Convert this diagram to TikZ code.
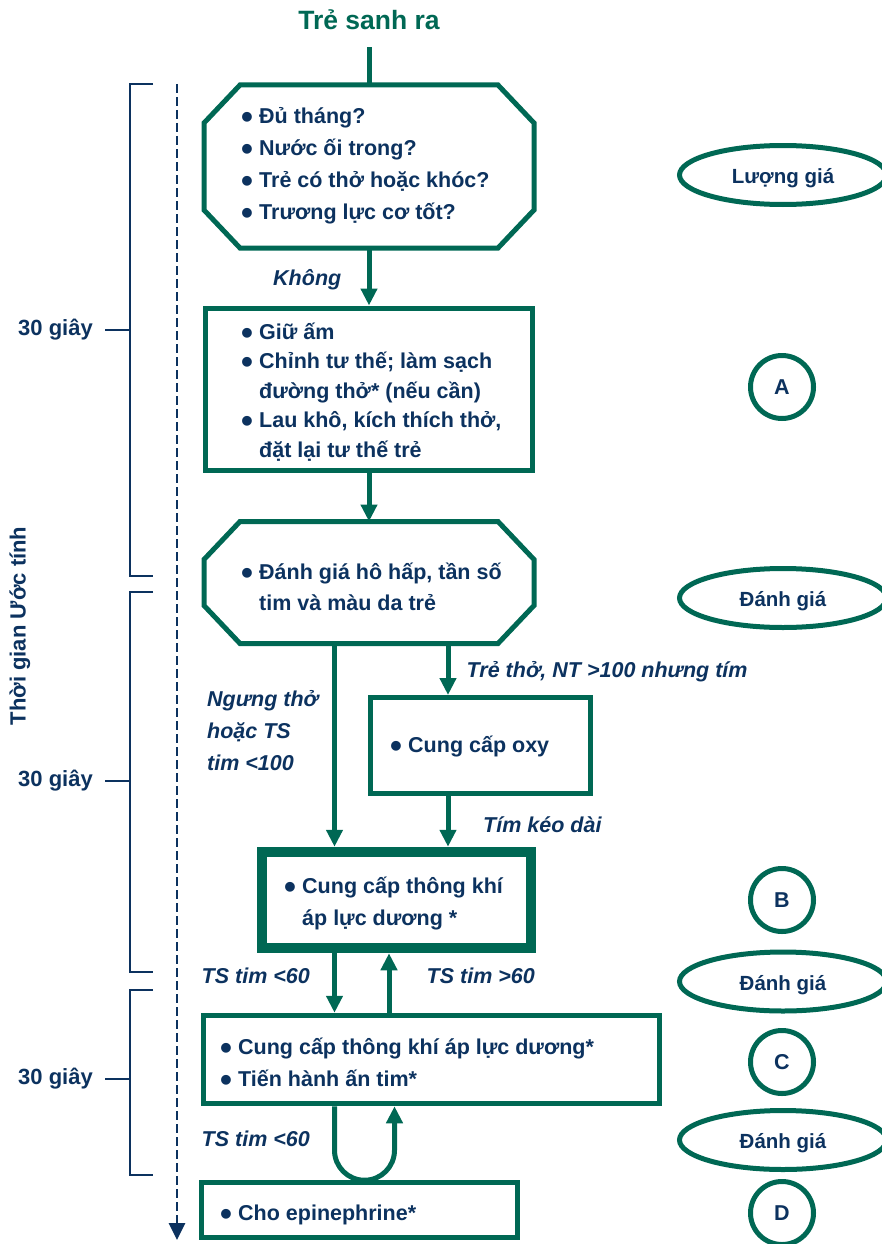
\documentclass[tikz,border=0pt]{standalone}
\usepackage{fontspec}
\setmainfont{Liberation Sans}
\usetikzlibrary{positioning,arrows.meta,shapes.geometric}

\definecolor{nrpgreen}{RGB}{0,104,84}
\definecolor{nrpnavy}{RGB}{12,50,95}

\newcommand{\itm}{\makebox[18pt][l]{\smash{\raisebox{-5pt}{\fontsize{34}{34}\selectfont\textbullet}}}}
\newcommand{\cnt}{\hspace*{18pt}}

% octagon frame round an empty node
\newcommand{\octframe}[1]{%
  \draw[frame] ([xshift=36pt]#1.north west) -- ([xshift=-36pt]#1.north east)
    -- ([yshift=-38pt]#1.north east) -- ([yshift=38pt]#1.south east)
    -- ([xshift=-36pt]#1.south east) -- ([xshift=36pt]#1.south west)
    -- ([yshift=38pt]#1.south west) -- ([yshift=-38pt]#1.north west) -- cycle;}

\begin{document}
\begin{tikzpicture}[x=1pt, y=-1pt, >={Triangle[width=16pt,length=17pt]},
  frame/.style={draw=nrpgreen, line width=5pt},
  oct/.style={minimum width=330pt, inner sep=0pt, outer sep=0pt},
  link/.style={draw=nrpgreen, line width=5pt},
  txt/.style={text=nrpnavy, font=\bfseries\fontsize{21.5}{31}\selectfont, align=left, inner sep=0pt, anchor=west},
  lbl/.style={txt, font=\bfseries\itshape\fontsize{21.5}{32}\selectfont},
  review/.style={ellipse, draw=nrpgreen, line width=5pt, minimum width=207pt, minimum height=59pt, inner sep=0pt, text height=17pt, text depth=0pt, text=nrpnavy, font=\bfseries\fontsize{20.5}{24}\selectfont},
  stage/.style={circle, draw=nrpgreen, line width=5pt, minimum size=63pt, inner sep=0pt, text=nrpnavy, font=\bfseries\fontsize{21.5}{24}\selectfont},
  timeline/.style={draw=nrpnavy, line width=2.7pt},
  sec/.style={text=nrpnavy, font=\bfseries\fontsize{22}{24}\selectfont, inner xsep=12pt, inner ysep=0pt, anchor=east}]

\useasboundingbox (0,0) rectangle (882,1244);

% title
\node[text=nrpgreen, font=\bfseries\fontsize{26.5}{30}\selectfont, inner ysep=17pt] (born) at (369,20) {Trẻ sanh ra};

% boxes
\node[oct, minimum height=163pt] (assess) at (369,166.5) {};
\octframe{assess}
\node[frame, minimum width=327pt, minimum height=162pt] (care) at (369,389) {};
\node[oct, minimum height=122pt] (eval) at (369,582.5) {};
\octframe{eval}
\node[frame, minimum width=220pt, minimum height=96pt] (oxy) at (480.5,745.5) {};
\node[frame, line width=10.5pt, minimum width=269pt, minimum height=96pt] (vent) at (396.5,900) {};
\node[frame, minimum width=456pt, minimum height=88.5pt] (cpr) at (431,1059.5) {};
\node[frame, minimum width=316pt, minimum height=55pt] (epi) at (359.5,1210) {};

% box texts
\node[txt, font=\bfseries\fontsize{21.5}{32}\selectfont] (assess-txt) at (241,166)
  {\itm Đủ tháng?\\ \itm Nước ối trong?\\ \itm Trẻ có thở hoặc khóc?\\ \itm Trương lực cơ tốt?};
\node[txt, font=\bfseries\fontsize{21.5}{29.5}\selectfont] (care-txt) at (241,392)
  {\itm Giữ ấm\\ \itm Chỉnh tư thế; làm sạch\\ \cnt đường thở* (nếu cần)\\ \itm Lau khô, kích thích thở,\\ \cnt đặt lại tư thế trẻ};
\node[txt] (eval-txt) at (241,587) {\itm Đánh giá hô hấp, tần số\\ \cnt tim và màu da trẻ};
\node[txt] (oxy-txt) at (390,747) {\itm Cung cấp oxy};
\node[txt, font=\bfseries\fontsize{21.5}{32}\selectfont] (vent-txt) at (284,903.5) {\itm Cung cấp thông khí\\ \cnt áp lực dương *};
\node[txt, font=\bfseries\fontsize{21.5}{32}\selectfont] (cpr-txt) at (220,1062) {\itm Cung cấp thông khí áp lực dương*\\ \itm Tiến hành ấn tim*};
\node[txt] (epi-txt) at (220,1215) {\itm Cho epinephrine*};

% connections
\draw[link] (born) -- (assess);
\draw[link,->] (assess) -- (care);
\draw[link,->] (care) -- (eval);
\draw[link,->] ([xshift=-34.5pt]eval.south) -- ([xshift=-34.5pt]eval.south |- vent.north);
\draw[link,->] ([xshift=79pt]eval.south) -- ([xshift=79pt]eval.south |- oxy.north);
\draw[link,->] ([xshift=-32.5pt]oxy.south) -- ([xshift=-32.5pt]oxy.south |- vent.north);
\draw[link,->] ([xshift=-62pt]vent.south) -- ([xshift=-62pt]vent.south |- cpr.north);
\draw[link,->] ([xshift=-42pt]cpr.north) -- ([xshift=-42pt]cpr.north |- vent.south);
\draw[link,->] ([xshift=-96.5pt]cpr.south) -- ++(0,44)
  arc[start angle=180, end angle=360, radius=30pt] -- ([xshift=-36.5pt]cpr.south);

% connection labels
\node[lbl] (no) at (273,280) {Không};
\node[lbl] (apnea) at (207,731) {Ngưng thở\\ hoặc TS\\ tim <100};
\node[lbl] (cyan) at (466.5,672) {Trẻ thở, NT >100 nhưng tím};
\node[lbl] (cyan-long) at (483,825) {Tím kéo dài};
\node[lbl] (hr-low) at (201.5,976) {TS tim <60};
\node[lbl] (hr-high) at (426.5,976) {TS tim >60};
\node[lbl] (hr-low2) at (201.5,1139) {TS tim <60};

% right column
\foreach \t/\y [count=\i] in {Lượng giá/175, Đánh giá/598, Đánh giá/981.5, Đánh giá/1140}
  \node[review] (review-\i) at (783,\y) {\t};
\foreach \l/\y in {A/387, B/900, C/1062, D/1213}
  \node[stage] (stage-\l) at (782,\y) {\l};

% time axis
\coordinate (t-top) at (177,84);
\coordinate (t-end) at (177,1240);
\draw[timeline, dash pattern=on 9pt off 4pt, -{Triangle[width=16pt,length=17pt]}] (t-top) -- (t-end);
\foreach \a/\b/\m [count=\i] in {84/576/330, 592/972/781, 990/1175/1079}
{
  \draw[timeline] (153,\a) -- (130,\a) -- (130,\b) -- (153,\b);
  \node[sec] (sec-\i) at (105,\m) {30 giây};
  \draw[timeline] (sec-\i.east) -- (130,\m);
}
\node[sec, anchor=center, inner sep=0pt, rotate=90] (axis) at (20,626) {Thời gian Ước tính};

\end{tikzpicture}
\end{document}
